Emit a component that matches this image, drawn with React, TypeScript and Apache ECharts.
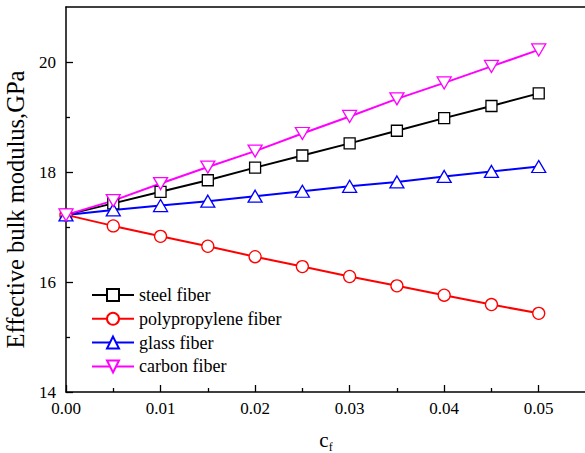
import React, { useEffect, useRef } from 'react';
import * as echarts from 'echarts';

const xValues = [0, 0.005, 0.01, 0.015, 0.02, 0.025, 0.03, 0.035, 0.04, 0.045, 0.05];
const steel = [17.22, 17.43, 17.64, 17.85, 18.08, 18.3, 18.52, 18.75, 18.98, 19.2, 19.43];
const polypropylene = [17.22, 17.02, 16.83, 16.65, 16.46, 16.28, 16.1, 15.93, 15.76, 15.59, 15.43];
const glass = [17.22, 17.31, 17.39, 17.47, 17.56, 17.65, 17.74, 17.82, 17.92, 18.01, 18.1];
const carbon = [17.22, 17.48, 17.79, 18.09, 18.38, 18.7, 19.01, 19.33, 19.62, 19.92, 20.22];

const seriesNames = ['steel fiber', 'polypropylene fiber', 'glass fiber', 'carbon fiber'];
const xMajorTicks = [0, 0.01, 0.02, 0.03, 0.04, 0.05];
const xMinorTicks = [0.005, 0.015, 0.025, 0.035, 0.045];
const yMajorTicks = [14, 16, 18, 20];
const yMinorTicks = [15, 17, 19];

const FONT = 'Liberation Serif';

export default function App() {
  const ref = useRef<HTMLDivElement>(null);
  useEffect(() => {
    if (!ref.current) return;
    const chart = echarts.init(ref.current, null, { renderer: 'svg' });
    const pair = (ys: number[]) => ys.map((y, i) => [xValues[i], y]);
    const mk = (name: string, ys: number[], color: string, symbol: string, size: any, rotate = 0) => ({
      name,
      type: 'line',
      data: pair(ys),
      xAxisIndex: 0,
      yAxisIndex: 0,
      symbol,
      symbolSize: size,
      symbolRotate: rotate,
      showAllSymbol: true,
      lineStyle: { color, width: 2 },
      itemStyle: { color: '#ffffff', borderColor: color, borderWidth: 1.3 },
      emphasis: { disabled: true },
    });
    const axisLine = { show: true, onZero: false, lineStyle: { color: '#000', width: 1.5 } };
    const labelText = { fontFamily: FONT, fontSize: 17, fontWeight: 'normal', color: '#000' };
    chart.setOption({
      animation: false,
      backgroundColor: '#ffffff',
      textStyle: { fontFamily: FONT, fontWeight: 'normal' },
      grid: { left: 66, top: 7, width: 520, bottom: 61, containLabel: false, outerBoundsMode: 'none' },
      legend: {
        orient: 'vertical',
        left: 86,
        top: 281,
        itemWidth: 42,
        itemHeight: 15,
        itemGap: 5.8,
        data: seriesNames,
        textStyle: { fontFamily: FONT, fontSize: 18, fontWeight: 'normal', color: '#000', lineHeight: 18 },
      },
      xAxis: [
        {
          type: 'value', min: 0, max: 0.055, position: 'bottom',
          axisLine,
          axisTick: { show: true, inside: true, length: 7, customValues: xMajorTicks, lineStyle: { color: '#000', width: 1.3 } },
          axisLabel: {
            customValues: xMajorTicks, margin: 8,
            formatter: (v: number) => v.toFixed(2),
            ...labelText,
          },
          splitLine: { show: false },
          name: '{c|c}{f|f}',
          nameLocation: 'middle',
          nameGap: 35,
          nameTextStyle: {
            fontFamily: FONT,
            rich: {
              c: { fontFamily: FONT, fontSize: 21, color: '#000', lineHeight: 26 },
              f: { fontFamily: FONT, fontSize: 12, color: '#000', verticalAlign: 'bottom', lineHeight: 16 },
            },
          },
        },
        {
          type: 'value', min: 0, max: 0.055, position: 'bottom',
          axisLine: { show: false, onZero: false },
          axisTick: { show: true, inside: true, length: 4, customValues: xMinorTicks, lineStyle: { color: '#000', width: 1.3 } },
          axisLabel: { show: false },
          splitLine: { show: false },
        },
        {
          type: 'value', min: 0, max: 0.055, position: 'top',
          axisLine,
          axisTick: { show: false },
          axisLabel: { show: false },
          splitLine: { show: false },
        },
      ],
      yAxis: [
        {
          type: 'value', min: 14, max: 21, position: 'left',
          axisLine,
          axisTick: { show: true, inside: true, length: 7, customValues: yMajorTicks, lineStyle: { color: '#000', width: 1.3 } },
          axisLabel: { customValues: yMajorTicks, margin: 10, ...labelText },
          splitLine: { show: false },
          name: 'Effective bulk modulus,GPa',
          nameLocation: 'middle',
          nameGap: 37,
          nameTextStyle: { fontFamily: FONT, fontSize: 24.5, fontWeight: 'normal', color: '#000', padding: [0, 20, 0, 0] },
        },
        {
          type: 'value', min: 14, max: 21, position: 'left',
          axisLine: { show: false, onZero: false },
          axisTick: { show: true, inside: true, length: 4, customValues: yMinorTicks, lineStyle: { color: '#000', width: 1.3 } },
          axisLabel: { show: false },
          splitLine: { show: false },
        },
      ],
      series: [
        mk(seriesNames[0], steel, '#000000', 'rect', 11),
        mk(seriesNames[1], polypropylene, '#ff0000', 'circle', 12),
        mk(seriesNames[2], glass, '#0000ff', 'triangle', [14, 12]),
        mk(seriesNames[3], carbon, '#ff00ff', 'triangle', [14, 12], 180),
      ],
    });
    return () => chart.dispose();
  }, []);
  return <div ref={ref} style={{ position: 'fixed', left: 0, top: 0, width: 585, height: 453 }} />;
}
